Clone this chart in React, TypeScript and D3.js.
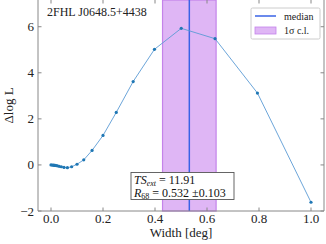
import React, { useRef, useEffect } from "react";
import * as d3 from "d3";

const width = 326;
const height = 244;

const widths = [0, 0.005, 0.01, 0.0126, 0.0158, 0.02, 0.0251, 0.0316, 0.0398, 0.0501, 0.0631, 0.0794, 0.1, 0.126, 0.158, 0.2, 0.251, 0.316, 0.398, 0.501, 0.631, 0.794, 1.0];
const dlogL = [0, -0.005, -0.01, -0.015, -0.02, -0.03, -0.04, -0.06, -0.08, -0.11, -0.12, -0.08, 0.03, 0.22, 0.63, 1.28, 2.28, 3.62, 5.02, 5.93, 5.48, 3.12, -1.62];
const xTicks = [0, 0.2, 0.4, 0.6, 0.8, 1.0];
const yTicks = [-2, 0, 2, 4, 6];
const median = 0.532;
const sigma = 0.103;
const sourceName = "2FHL J0648.5+4438";
const tsExt = "11.91";

const font = "'Liberation Serif', 'DejaVu Serif', serif";

export default function App() {
  const ref = useRef<SVGSVGElement | null>(null);

  useEffect(() => {
    const svg = d3.select(ref.current);
    svg.selectAll("*").remove();

    const left = 38, right = 324, top = 0, bottom = 211;

    const x = d3.scaleLinear().domain([-0.05, 1.05]).range([left, right]);
    const y = d3.scaleLinear().domain([-2, 7.16]).range([bottom, top]);

    // 1 sigma band
    svg.append("rect")
      .attr("x", x(median - sigma))
      .attr("y", top)
      .attr("width", x(median + sigma) - x(median - sigma))
      .attr("height", bottom - top)
      .attr("fill", "#dfb6f5")
      .attr("stroke", "#c483ea")
      .attr("stroke-width", 1.2);

    svg.append("line")
      .attr("x1", x(median)).attr("x2", x(median))
      .attr("y1", top).attr("y2", bottom)
      .attr("stroke", "#3a63e6")
      .attr("stroke-width", 1.5);

    const pts = widths.map((w, i) => [w, dlogL[i]] as [number, number]);
    const line = d3.line<[number, number]>().x(d => x(d[0])).y(d => y(d[1]));

    svg.append("path")
      .attr("d", line(pts)!)
      .attr("fill", "none")
      .attr("stroke", "#5b9bd5")
      .attr("stroke-width", 0.9);

    svg.selectAll("circle.pt")
      .data(pts)
      .enter()
      .append("circle")
      .attr("class", "pt")
      .attr("cx", d => x(d[0]))
      .attr("cy", d => y(d[1]))
      .attr("r", 1.6)
      .attr("fill", "#1f77b4");

    // frame
    const spine = "#888";
    svg.append("line").attr("x1", left).attr("x2", left).attr("y1", top).attr("y2", bottom).attr("stroke", spine);
    svg.append("line").attr("x1", right).attr("x2", right).attr("y1", top).attr("y2", bottom).attr("stroke", spine);
    svg.append("line").attr("x1", left).attr("x2", right).attr("y1", bottom).attr("y2", bottom).attr("stroke", spine);

    // ticks, inward on all sides
    xTicks.forEach(t => {
      svg.append("line").attr("x1", x(t)).attr("x2", x(t)).attr("y1", bottom).attr("y2", bottom - 3.5).attr("stroke", spine);
      svg.append("line").attr("x1", x(t)).attr("x2", x(t)).attr("y1", top).attr("y2", top + 3.5).attr("stroke", spine);
      svg.append("text")
        .attr("x", x(t)).attr("y", bottom + 12)
        .attr("text-anchor", "middle")
        .attr("font-size", 13).attr("fill", "#222")
        .text(t.toFixed(1));
    });
    yTicks.forEach(t => {
      svg.append("line").attr("x1", left).attr("x2", left + 3.5).attr("y1", y(t)).attr("y2", y(t)).attr("stroke", spine);
      svg.append("line").attr("x1", right).attr("x2", right - 3.5).attr("y1", y(t)).attr("y2", y(t)).attr("stroke", spine);
      svg.append("text")
        .attr("x", left - 4).attr("y", y(t) + 4.5)
        .attr("text-anchor", "end")
        .attr("font-size", 13).attr("fill", "#222")
        .text(t < 0 ? "\u2212" + Math.abs(t) : String(t));
    });

    svg.append("text")
      .attr("x", (left + right) / 2).attr("y", 237)
      .attr("text-anchor", "middle")
      .attr("font-size", 13).attr("fill", "#222")
      .text("Width [deg]");

    svg.append("text")
      .attr("transform", `translate(13,${(top + bottom) / 2}) rotate(-90)`)
      .attr("text-anchor", "middle")
      .attr("font-size", 13).attr("fill", "#222")
      .text("\u0394log L");

    svg.append("text")
      .attr("x", 47).attr("y", 16)
      .attr("font-size", 12).attr("fill", "#222")
      .text(sourceName);

    // legend
    const lg = svg.append("g");
    lg.append("rect").attr("x", 251).attr("y", 8).attr("width", 69).attr("height", 31)
      .attr("fill", "#fff").attr("stroke", "#ccc").attr("rx", 1.5);
    lg.append("line").attr("x1", 255).attr("x2", 276).attr("y1", 16).attr("y2", 16)
      .attr("stroke", "#3a63e6").attr("stroke-width", 1.5);
    lg.append("rect").attr("x", 255).attr("y", 27).attr("width", 21).attr("height", 7)
      .attr("fill", "#dfb6f5").attr("stroke", "#c483ea").attr("stroke-width", 0.8);
    lg.append("text").attr("x", 284).attr("y", 19.5)
      .attr("font-size", 10).attr("fill", "#222").text("median");
    lg.append("text").attr("x", 284).attr("y", 34)
      .attr("font-size", 10).attr("fill", "#222").text("1\u03c3 c.l.");

    // TS / R68 box
    const bx = svg.append("g");
    bx.append("rect").attr("x", 131).attr("y", 172.5).attr("width", 103).attr("height", 27)
      .attr("fill", "#fff").attr("stroke", "#555").attr("stroke-width", 0.9);
    const t1 = bx.append("text").attr("x", 134).attr("y", 184)
      .attr("font-size", 12).attr("fill", "#111");
    t1.append("tspan").attr("font-style", "italic").text("TS");
    t1.append("tspan").attr("font-style", "italic").attr("font-size", 8).attr("dy", 1.5).text("ext");
    t1.append("tspan").attr("dy", -1.5).text(" = " + tsExt);
    const t2 = bx.append("text").attr("x", 134).attr("y", 197)
      .attr("font-size", 12).attr("fill", "#111");
    t2.append("tspan").attr("font-style", "italic").text("R");
    t2.append("tspan").attr("font-size", 8).attr("dy", 1.5).text("68");
    t2.append("tspan").attr("dy", -1.5).text(" = " + median.toFixed(3) + " \u00b1" + sigma.toFixed(3));
  }, []);

  return (
    <div style={{ position: "absolute", left: 0, top: 0 }}>
      <svg ref={ref} width={width} height={height} style={{ display: "block", fontFamily: font }} />
    </div>
  );
}
